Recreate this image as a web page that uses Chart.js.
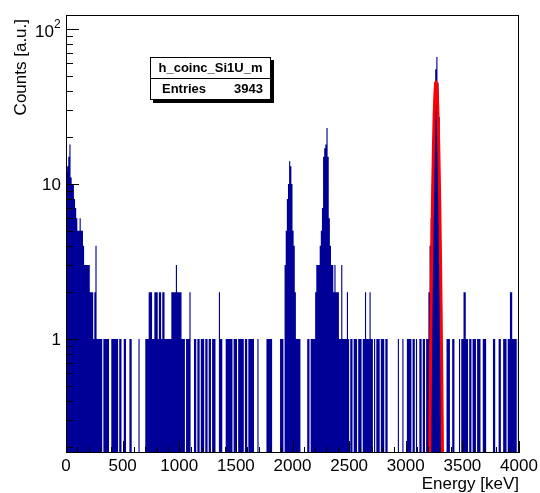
<!DOCTYPE html>
<html>
<head>
<meta charset="utf-8">
<script src="https://cdn.jsdelivr.net/npm/chart.js@4/dist/chart.umd.min.js"></script>
<style>
  html, body { margin: 0; padding: 0; background: #fff; }
</style>
</head>
<body>
<canvas id="c" width="540" height="493"></canvas>
<script>
// h_coinc_Si1U_m, counts per 10 keV bin
const binWidth = 10;
const counts0to1000 = [
  12, 13, 15, 18, 11, 10, 10, 8, 7, 6,
  5, 5, 6, 5, 5, 4, 3, 3, 3, 3,
  3, 2, 2, 2, 1, 2, 4, 1, 1, 1,
  1, 1, 0, 1, 1, 1, 1, 1, 0, 0,
  1, 1, 1, 1, 1, 1, 0, 1, 1, 0,
  0, 1, 1, 0, 0, 0, 1, 1, 0, 0,
  0, 0, 0, 0, 1, 0, 0, 0, 0, 0,
  1, 1, 1, 2, 2, 2, 1, 1, 2, 2,
  2, 1, 2, 2, 1, 2, 2, 1, 1, 1,
  1, 1, 1, 2, 2, 2, 2, 3, 2, 2
];
const counts1000to2000 = [
  2, 2, 1, 1, 1, 0, 1, 1, 1, 2,
  0, 0, 0, 1, 1, 0, 1, 1, 0, 1,
  1, 1, 0, 1, 1, 0, 1, 1, 0, 1,
  1, 1, 0, 0, 0, 2, 1, 1, 0, 0,
  0, 1, 1, 1, 1, 1, 1, 0, 1, 1,
  1, 0, 1, 1, 1, 1, 1, 0, 1, 1,
  0, 1, 1, 1, 1, 1, 0, 0, 0, 1,
  0, 0, 0, 0, 0, 0, 0, 1, 1, 1,
  1, 1, 0, 0, 0, 0, 0, 0, 0, 1,
  1, 1, 0, 3, 5, 8, 10, 14, 13, 10
];
const counts2000to3000 = [
  5, 4, 2, 1, 1, 1, 1, 0, 0, 0,
  0, 0, 0, 1, 1, 0, 1, 1, 1, 1,
  2, 3, 3, 3, 4, 5, 7, 15, 17, 18,
  23, 15, 6, 4, 3, 3, 2, 3, 2, 2,
  2, 1, 1, 3, 1, 1, 1, 1, 2, 1,
  0, 1, 1, 0, 1, 1, 1, 0, 1, 1,
  1, 0, 1, 1, 2, 1, 1, 1, 2, 1,
  1, 0, 1, 0, 1, 1, 1, 0, 1, 1,
  1, 0, 1, 1, 0, 0, 0, 0, 0, 0,
  0, 0, 0, 1, 0, 0, 0, 1, 0, 0
];
const counts3000to4000 = [
  0, 1, 1, 1, 1, 0, 1, 1, 0, 1,
  0, 0, 1, 1, 0, 1, 1, 0, 1, 1,
  2, 4, 6, 10, 30, 45, 55, 66, 45, 27,
  8, 2, 0, 0, 0, 0, 1, 1, 1, 0,
  0, 1, 1, 0, 0, 0, 0, 1, 0, 1,
  1, 2, 2, 1, 1, 0, 1, 1, 0, 1,
  1, 1, 0, 1, 1, 1, 0, 0, 1, 1,
  1, 0, 0, 0, 0, 0, 0, 1, 1, 0,
  0, 0, 1, 1, 0, 0, 1, 1, 1, 0,
  1, 1, 2, 2, 1, 1, 1, 1, 0, 1
];

// red fit curve on the 3.27 MeV line
const fitEnergy = [3205, 3210, 3215, 3220, 3225, 3230, 3235, 3240, 3245, 3250, 3255, 3260, 3265, 3268,
                   3272, 3277, 3282, 3287, 3292, 3297, 3302, 3307, 3312, 3317, 3322, 3327];
const fitCounts = [0.047, 0.135, 0.354, 0.84, 1.86, 3.74, 6.9, 11.7, 18.3, 26.0, 34.0, 40.8, 44.9, 45.6,
                   44.4, 39.6, 32.5, 24.4, 16.8, 10.6, 6.2, 3.3, 1.6, 0.72, 0.29, 0.11];

// axes
const xTicks = [0, 500, 1000, 1500, 2000, 2500, 3000, 3500, 4000];
const xMinorStep = 100;
const yTicks = [1, 10, 100];
const yTickBase = ['1', '10', '10'];
const yTickExp = ['', '', '2'];
const xTitle = 'Energy [keV]';
const yTitle = 'Counts [a.u.]';
const statsName = 'h_coinc_Si1U_m';
const statsEntries = 3943;

const histColor = '#000099';
const zeroFloor = 0.01; // log axis cannot show 0, park empty bins under the frame

const allCounts = counts0to1000.concat(counts1000to2000, counts2000to3000, counts3000to4000);
const histPoints = allCounts.map((c, i) => ({ x: i * binWidth, y: c > 0 ? c : zeroFloor }));
histPoints.push({ x: allCounts.length * binWidth, y: zeroFloor });
const fitPoints = fitEnergy.map((e, i) => ({ x: e, y: fitCounts[i] }));

const font = '"Liberation Sans", Arial, Helvetica, sans-serif';

// ROOT style frame: box, inward ticks, labels, titles and the stats box
const rootFrame = {
  id: 'rootFrame',
  afterDraw(chart) {
    const ctx = chart.ctx;
    const a = chart.chartArea;
    const xs = chart.scales.x;
    const ys = chart.scales.y;
    ctx.save();
    ctx.strokeStyle = '#000';
    ctx.lineWidth = 1;
    ctx.strokeRect(a.left + 0.5, a.top + 0.5, a.right - a.left - 1, a.bottom - a.top - 1);

    // x ticks
    ctx.beginPath();
    for (let e = xs.min; e <= xs.max; e += xMinorStep) {
      const px = Math.round(xs.getPixelForValue(e)) + 0.5;
      const len = xTicks.includes(e) ? 12 : 6;
      ctx.moveTo(px, a.bottom);
      ctx.lineTo(px, a.bottom - len);
    }
    // y ticks, log decades
    for (let d = 0.1; d <= 1000; d *= 10) {
      for (let m = 1; m <= 9; m++) {
        const v = m * d;
        if (v < ys.min || v > ys.max) continue;
        const py = Math.round(ys.getPixelForValue(v)) + 0.5;
        const len = m === 1 ? 13 : 7;
        ctx.moveTo(a.left, py);
        ctx.lineTo(a.left + len, py);
      }
    }
    ctx.stroke();

    ctx.fillStyle = '#000';
    ctx.font = '17px ' + font;
    ctx.textAlign = 'center';
    ctx.textBaseline = 'middle';
    xTicks.forEach(t => ctx.fillText(String(t), xs.getPixelForValue(t), 466));

    yTicks.forEach((t, i) => {
      const py = ys.getPixelForValue(t);
      if (yTickExp[i]) {
        ctx.font = '12px ' + font;
        ctx.textAlign = 'left';
        ctx.fillText(yTickExp[i], 54, py - 4);
        ctx.font = '17px ' + font;
        ctx.textAlign = 'right';
        ctx.fillText(yTickBase[i], 54, py + 3);
      } else {
        ctx.textAlign = 'right';
        ctx.fillText(yTickBase[i], 61, py + 1);
      }
    });

    ctx.textBaseline = 'alphabetic';
    ctx.textAlign = 'right';
    ctx.fillText(xTitle, a.right, 489);
    ctx.save();
    ctx.translate(26, 19);
    ctx.rotate(-Math.PI / 2);
    ctx.fillText(yTitle, 0, 0);
    ctx.restore();

    // stats box
    const bx = 150, by = 57, bw = 121, bh = 43;
    ctx.fillStyle = '#000';
    ctx.fillRect(bx + 3, by + 3, bw, bh);
    ctx.fillStyle = '#fff';
    ctx.fillRect(bx, by, bw, bh);
    ctx.strokeRect(bx + 0.5, by + 0.5, bw - 1, bh - 1);
    ctx.beginPath();
    ctx.moveTo(bx, by + 21.5);
    ctx.lineTo(bx + bw, by + 21.5);
    ctx.stroke();
    ctx.fillStyle = '#000';
    ctx.font = 'bold 13px ' + font;
    ctx.textBaseline = 'middle';
    ctx.textAlign = 'center';
    ctx.fillText(statsName, bx + bw / 2, by + 11);
    ctx.textAlign = 'left';
    ctx.fillText('Entries', bx + 12, by + 32);
    ctx.textAlign = 'right';
    ctx.fillText(String(statsEntries), bx + bw - 8, by + 32);
    ctx.restore();
  }
};

new Chart(document.getElementById('c'), {
  type: 'line',
  data: {
    datasets: [
      {
        label: 'fit',
        data: fitPoints,
        borderColor: '#ff0000',
        borderWidth: 3,
        pointRadius: 0,
        fill: false,
        cubicInterpolationMode: 'monotone',
        order: 0
      },
      {
        label: statsName,
        data: histPoints,
        stepped: 'before',
        borderWidth: 0,
        backgroundColor: histColor,
        fill: 'start',
        pointRadius: 0,
        order: 1
      }
    ]
  },
  options: {
    responsive: false,
    animation: false,
    layout: { padding: { left: 66, right: 21, top: 15, bottom: 40 } },
    scales: {
      x: { type: 'linear', min: 0, max: 4000, display: false },
      y: { type: 'logarithmic', min: 0.184, max: 123, display: false }
    },
    plugins: {
      legend: { display: false },
      tooltip: { enabled: false }
    }
  },
  plugins: [rootFrame]
});
</script>
</body>
</html>
